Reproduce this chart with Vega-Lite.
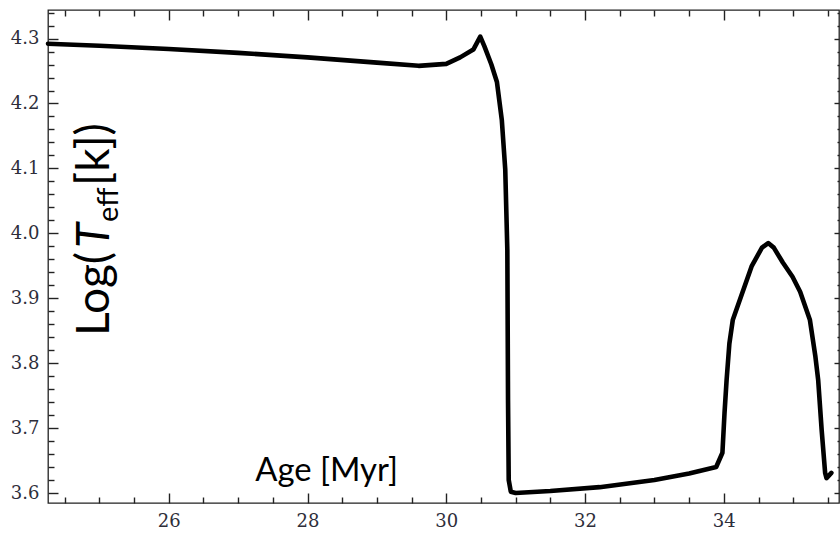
{
  "$schema": "https://vega.github.io/schema/vega-lite/v6.json",
  "autosize": "none",
  "padding": {"left": 48, "top": 10, "right": 1, "bottom": 33},
  "width": 791,
  "height": 493,
  "background": "white",
  "config": {
    "view": {"stroke": "#222222", "strokeWidth": 1.3},
    "axis": {
      "domain": false,
      "grid": false,
      "ticks": true,
      "tickColor": "#222222",
      "tickWidth": 1.4,
      "tickOpacity": 1,
      "zindex": 1,
      "labelFont": "DejaVu Serif",
      "labelFontSize": 18,
      "labelColor": "#2e2e3a",
      "labelFlush": false,
      "labelOverlap": false,
      "title": null
    }
  },
  "resolve": {"axis": {"x": "independent", "y": "independent"}},
  "layer": [
    {
      "data": {
        "values": [
          {"age": 24.26, "logT": 4.292},
          {"age": 25.0, "logT": 4.289},
          {"age": 26.0, "logT": 4.284},
          {"age": 27.0, "logT": 4.278},
          {"age": 28.0, "logT": 4.271},
          {"age": 29.0, "logT": 4.263},
          {"age": 29.6, "logT": 4.258},
          {"age": 30.0, "logT": 4.261},
          {"age": 30.2, "logT": 4.271},
          {"age": 30.39, "logT": 4.283},
          {"age": 30.49, "logT": 4.303},
          {"age": 30.55, "logT": 4.288},
          {"age": 30.65, "logT": 4.26},
          {"age": 30.73, "logT": 4.233},
          {"age": 30.8, "logT": 4.175},
          {"age": 30.85, "logT": 4.098},
          {"age": 30.88, "logT": 3.974},
          {"age": 30.89, "logT": 3.743},
          {"age": 30.9, "logT": 3.62},
          {"age": 30.93, "logT": 3.602},
          {"age": 31.0, "logT": 3.6},
          {"age": 31.5, "logT": 3.603},
          {"age": 32.21, "logT": 3.609},
          {"age": 33.0, "logT": 3.62},
          {"age": 33.5, "logT": 3.63},
          {"age": 33.89, "logT": 3.64},
          {"age": 33.98, "logT": 3.662},
          {"age": 34.01, "logT": 3.723},
          {"age": 34.04, "logT": 3.774},
          {"age": 34.08, "logT": 3.83},
          {"age": 34.13, "logT": 3.867},
          {"age": 34.4, "logT": 3.949},
          {"age": 34.55, "logT": 3.978},
          {"age": 34.64, "logT": 3.985},
          {"age": 34.72, "logT": 3.978},
          {"age": 34.85, "logT": 3.955},
          {"age": 34.99, "logT": 3.933},
          {"age": 35.1, "logT": 3.91},
          {"age": 35.24, "logT": 3.867},
          {"age": 35.32, "logT": 3.81},
          {"age": 35.36, "logT": 3.774},
          {"age": 35.41, "logT": 3.697},
          {"age": 35.46, "logT": 3.631},
          {"age": 35.48, "logT": 3.623},
          {"age": 35.55, "logT": 3.631}
        ]
      },
      "mark": {"type": "line", "color": "#000000", "strokeWidth": 4.6, "strokeJoin": "round", "strokeCap": "round"},
      "encoding": {
        "x": {
          "field": "age", "type": "quantitative",
          "scale": {"domain": [24.26, 35.66], "nice": false, "zero": false},
          "axis": {"orient": "bottom", "values": [26, 28, 30, 32, 34], "format": "d", "offset": -10, "tickSize": 10, "labelPadding": 9}
        },
        "y": {
          "field": "logT", "type": "quantitative",
          "scale": {"domain": [3.5846, 4.344], "nice": false, "zero": false},
          "axis": {"orient": "left", "values": [3.6, 3.7, 3.8, 3.9, 4.0, 4.1, 4.2, 4.3], "format": ".1f", "offset": -10, "tickSize": 10, "labelPadding": 9}
        }
      }
    },
    {
      "data": {"values": [{"age": 27.247, "logT": 3.6185, "label": "Age [Myr]"}]},
      "mark": {"type": "text", "font": "Lato", "fontSize": 32.8, "color": "#000000", "align": "left", "baseline": "alphabetic"},
      "encoding": {
        "x": {
          "field": "age", "type": "quantitative",
          "axis": {"orient": "bottom", "values": [24.5, 25, 25.5, 26.5, 27, 27.5, 28.5, 29, 29.5, 30.5, 31, 31.5, 32.5, 33, 33.5, 34.5, 35, 35.5], "labels": false, "offset": -6, "tickSize": 6}
        },
        "y": {
          "field": "logT", "type": "quantitative",
          "axis": {"orient": "left", "values": [3.62, 3.64, 3.66, 3.68, 3.72, 3.74, 3.76, 3.78, 3.82, 3.84, 3.86, 3.88, 3.92, 3.94, 3.96, 3.98, 4.02, 4.04, 4.06, 4.08, 4.12, 4.14, 4.16, 4.18, 4.22, 4.24, 4.26, 4.28, 4.32, 4.34], "labels": false, "offset": -6, "tickSize": 6}
        },
        "text": {"field": "label"}
      }
    },
    {
      "data": {"values": [{"age": 25.145, "logT": 3.8419, "label": "Log("}, {"age": 25.145, "logT": 4.073, "label": "[k])"}]},
      "mark": {"type": "text", "font": "Lato", "fontSize": 46, "color": "#000000", "angle": 270, "align": "left", "baseline": "alphabetic"},
      "encoding": {
        "x": {
          "field": "age", "type": "quantitative",
          "axis": {"orient": "top", "values": [26, 28, 30, 32, 34], "labels": false, "offset": -10, "tickSize": 10}
        },
        "y": {
          "field": "logT", "type": "quantitative",
          "axis": {"orient": "right", "values": [3.6, 3.7, 3.8, 3.9, 4.0, 4.1, 4.2, 4.3], "labels": false, "offset": -5, "tickSize": 5}
        },
        "text": {"field": "label"}
      }
    },
    {
      "data": {"values": [{"age": 25.145, "logT": 3.9775, "label": "T"}]},
      "mark": {"type": "text", "font": "Lato", "fontSize": 46, "fontStyle": "italic", "color": "#000000", "angle": 270, "align": "left", "baseline": "alphabetic"},
      "encoding": {
        "x": {
          "field": "age", "type": "quantitative",
          "axis": {"orient": "top", "values": [24.5, 25, 25.5, 26.5, 27, 27.5, 28.5, 29, 29.5, 30.5, 31, 31.5, 32.5, 33, 33.5, 34.5, 35, 35.5], "labels": false, "offset": -6, "tickSize": 6}
        },
        "y": {
          "field": "logT", "type": "quantitative",
          "axis": {"orient": "right", "values": [3.62, 3.64, 3.66, 3.68, 3.72, 3.74, 3.76, 3.78, 3.82, 3.84, 3.86, 3.88, 3.92, 3.94, 3.96, 3.98, 4.02, 4.04, 4.06, 4.08, 4.12, 4.14, 4.16, 4.18, 4.22, 4.24, 4.26, 4.28, 4.32, 4.34], "labels": false, "offset": -2, "tickSize": 2}
        },
        "text": {"field": "label"}
      }
    },
    {
      "data": {"values": [{"age": 25.27, "logT": 4.0176, "label": "eff"}]},
      "mark": {"type": "text", "font": "Lato", "fontSize": 29, "color": "#000000", "angle": 270, "align": "left", "baseline": "alphabetic"},
      "encoding": {
        "x": {"field": "age", "type": "quantitative", "axis": null},
        "y": {"field": "logT", "type": "quantitative", "axis": null},
        "text": {"field": "label"}
      }
    }
  ]
}
